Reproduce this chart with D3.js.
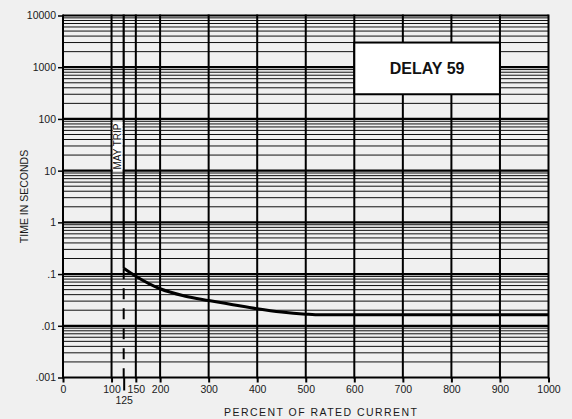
<!DOCTYPE html>
<html>
<head>
<meta charset="utf-8">
<script src="https://cdn.jsdelivr.net/npm/d3@7"></script>
<style>
  body { margin: 0; background: #f0f0f0; }
  svg { display: block; font-family: "Liberation Sans", Arial, sans-serif; }
</style>
</head>
<body>
<div id="chart"></div>
<script>
// chart values
const xTicks = [0, 100, 150, 200, 300, 400, 500, 600, 700, 800, 900, 1000];
const tripCurrent = 125;
const yTicks = [0.001, 0.01, 0.1, 1, 10, 100, 1000, 10000];
const yTickLabels = [".001", ".01", ".1", "1", "10", "100", "1000", "10000"];
const curvePercent = [125, 150, 200, 250, 300, 350, 400, 450, 500, 530, 600, 700, 800, 900, 1000];
const curveSeconds = [0.13, 0.091, 0.052, 0.0378, 0.0308, 0.0256, 0.0213, 0.0184, 0.0168, 0.0163, 0.0163, 0.0163, 0.0163, 0.0163, 0.0163];
const delayLabel = "DELAY 59";
const mayTripLabel = "MAY TRIP";

const width = 572;
const height = 419;

const x = d3.scaleLinear().domain([0, 1000]).range([63, 548.5]);
const y = d3.scaleLog().domain([0.001, 10000]).range([377.5, 15.5]);

const svg = d3.select("#chart").append("svg")
  .attr("width", width)
  .attr("height", height);

svg.append("rect").attr("width", width).attr("height", height).attr("fill", "#f0f0f0");

// minor horizontal grid
const minor = [];
yTicks.slice(0, -1).forEach((d) => {
  for (let k = 2; k <= 9; k++) minor.push(d * k);
});

const grid = svg.append("g");
grid.selectAll(".minor")
  .data(minor)
  .enter()
  .append("line")
  .attr("x1", x(0)).attr("x2", x(1000))
  .attr("y1", (d) => y(d)).attr("y2", (d) => y(d))
  .attr("stroke", "#111")
  .attr("stroke-width", 1);

grid.selectAll(".major")
  .data(yTicks)
  .enter()
  .append("line")
  .attr("x1", x(0)).attr("x2", x(1000))
  .attr("y1", (d) => y(d)).attr("y2", (d) => y(d))
  .attr("stroke", "#000")
  .attr("stroke-width", 2.2);

grid.selectAll(".vert")
  .data(xTicks)
  .enter()
  .append("line")
  .attr("x1", (d) => x(d)).attr("x2", (d) => x(d))
  .attr("y1", y(10000) - 1).attr("y2", y(0.001) + 1)
  .attr("stroke", "#000")
  .attr("stroke-width", 2);

// axes
const font = "Liberation Sans, Arial, sans-serif";

const yAxis = svg.append("g")
  .attr("transform", `translate(${x(0)},0)`)
  .call(d3.axisLeft(y).tickValues(yTicks).tickSize(5).tickPadding(2)
    .tickFormat((d, i) => yTickLabels[i]));
yAxis.select(".domain").remove();
yAxis.selectAll("line").attr("stroke", "#000").attr("stroke-width", 1.5);
yAxis.selectAll("text").attr("font-size", 10.5).attr("fill", "#1a1a1a").attr("font-family", font);

const xAxis = svg.append("g")
  .attr("transform", `translate(0,${y(0.001)})`)
  .call(d3.axisBottom(x).tickValues(xTicks).tickSize(5).tickPadding(3).tickFormat(d3.format("d")));
xAxis.select(".domain").remove();
xAxis.selectAll("line").attr("stroke", "#000").attr("stroke-width", 2);
xAxis.selectAll("text").attr("font-size", 10.5).attr("fill", "#1a1a1a").attr("font-family", font);

const tripAxis = svg.append("g")
  .attr("transform", `translate(0,${y(0.001)})`)
  .call(d3.axisBottom(x).tickValues([tripCurrent]).tickSize(13).tickPadding(6).tickFormat(d3.format("d")));
tripAxis.select(".domain").remove();
tripAxis.selectAll("line").attr("stroke", "#000").attr("stroke-width", 2);
tripAxis.selectAll("text").attr("font-size", 10.5).attr("fill", "#1a1a1a").attr("font-family", font);

// trip line: solid above the curve, dashed below
svg.append("line")
  .attr("x1", x(tripCurrent)).attr("x2", x(tripCurrent))
  .attr("y1", y(10000) - 1).attr("y2", y(curveSeconds[0]))
  .attr("stroke", "#000").attr("stroke-width", 2.2);

svg.append("line")
  .attr("x1", x(tripCurrent)).attr("x2", x(tripCurrent))
  .attr("y1", y(curveSeconds[0])).attr("y2", y(0.001))
  .attr("stroke", "#000").attr("stroke-width", 2)
  .attr("stroke-dasharray", "11,9");

// curve
const curveData = curvePercent.map((p, i) => [p, curveSeconds[i]]);
svg.append("path")
  .datum(curveData)
  .attr("fill", "none")
  .attr("stroke", "#000")
  .attr("stroke-width", 3)
  .attr("d", d3.line().x((d) => x(d[0])).y((d) => y(d[1])).curve(d3.curveMonotoneX));

// may trip label
svg.append("rect")
  .attr("x", x(100) + 1.2)
  .attr("y", y(90))
  .attr("width", x(tripCurrent) - x(100) - 2.4)
  .attr("height", y(9.5) - y(90))
  .attr("fill", "#fff");

const mtx = (x(100) + x(tripCurrent)) / 2;
const mty = (y(90) + y(9.5)) / 2;
svg.append("text")
  .attr("transform", `translate(${mtx + 3.6},${mty}) rotate(-90)`)
  .attr("text-anchor", "middle")
  .attr("font-size", 10)
  .attr("fill", "#111")
  .text(mayTripLabel);

// delay box
svg.append("rect")
  .attr("x", x(600))
  .attr("y", y(3000))
  .attr("width", x(900) - x(600))
  .attr("height", y(300) - y(3000))
  .attr("fill", "#fff")
  .attr("stroke", "#000")
  .attr("stroke-width", 2);

svg.append("text")
  .attr("x", (x(600) + x(900)) / 2)
  .attr("y", (y(3000) + y(300)) / 2 + 6)
  .attr("text-anchor", "middle")
  .attr("font-size", 16)
  .attr("font-weight", "bold")
  .attr("fill", "#111")
  .text(delayLabel);

// axis titles
svg.append("text")
  .attr("transform", `translate(28,${(y(10000) + y(0.001)) / 2}) rotate(-90)`)
  .attr("text-anchor", "middle")
  .attr("font-size", 10.5)
  .attr("fill", "#1a1a1a")
  .text("TIME IN SECONDS");

svg.append("text")
  .attr("x", 224)
  .attr("y", 415.5)
  .attr("font-size", 10.5)
  .attr("fill", "#1a1a1a")
  .attr("textLength", 193)
  .attr("lengthAdjust", "spacing")
  .text("PERCENT OF RATED CURRENT");
</script>
</body>
</html>
